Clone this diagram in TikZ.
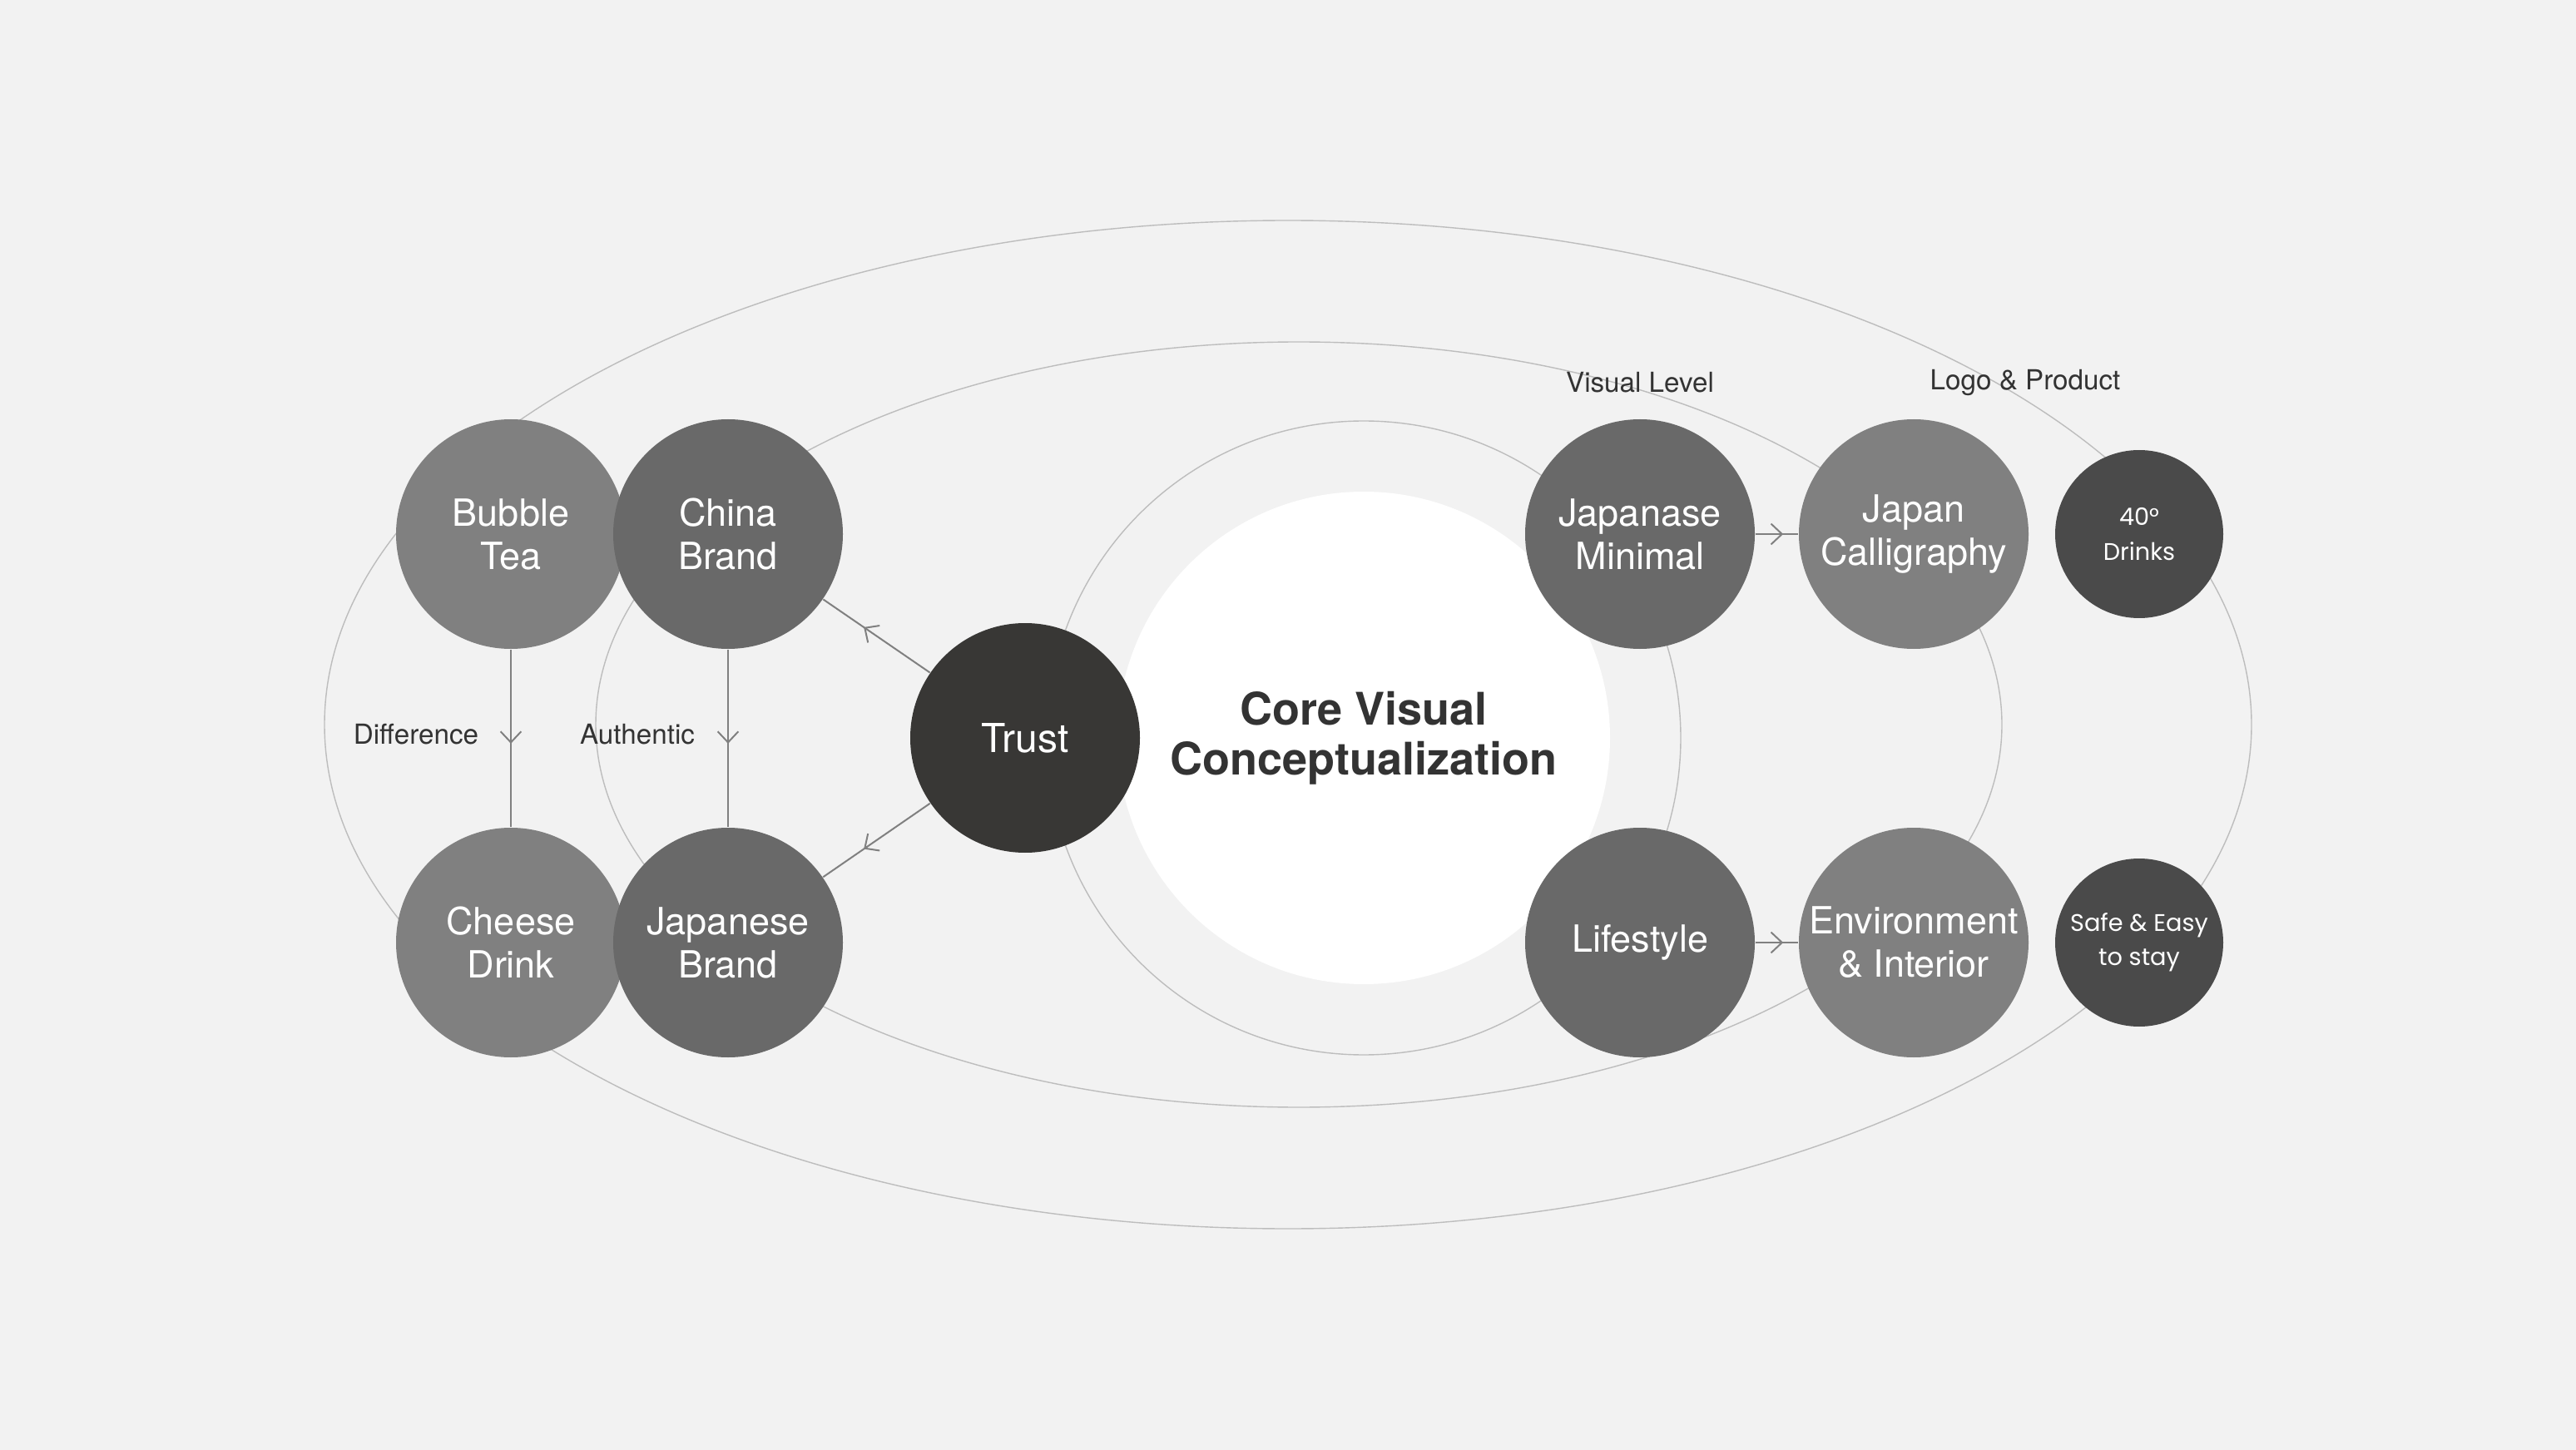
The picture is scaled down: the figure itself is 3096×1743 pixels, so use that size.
\documentclass[tikz,border=0pt]{standalone}
\usepackage{fontspec}
\setmainfont{TeX Gyre Heros}
\newfontfamily\roundfont{Poppins}
\usetikzlibrary{arrows.meta,decorations.markings}
\definecolor{bg}{HTML}{F2F2F2}
\definecolor{gLight}{HTML}{808080}
\definecolor{gMid}{HTML}{696969}
\definecolor{gDark}{HTML}{4A4A4A}
\definecolor{gTrust}{HTML}{383735}
\definecolor{orbitc}{HTML}{BDBDBD}
\definecolor{connc}{HTML}{808080}
\definecolor{txt}{HTML}{333333}
\tikzset{
  bubble/.style={circle, inner sep=0pt, minimum size=69pt, text=white, align=center,
    font=\fontsize{11.25}{13}\selectfont},
  lightb/.style={bubble, fill=gLight},
  midb/.style={bubble, fill=gMid},
  smallb/.style={circle, inner sep=0pt, minimum size=50.5pt, fill=gDark, text=white, align=center,
    font=\roundfont\fontsize{7.2}{10.3}\selectfont},
  trustb/.style={bubble, fill=gTrust, font=\fontsize{12}{13}\selectfont},
  lbl/.style={text=txt, font=\fontsize{8.3}{10}\selectfont, inner sep=0pt},
  orbit/.style={draw=orbitc, line width=0.35pt},
  conn/.style={draw=connc, line width=0.5pt},
  midarrow/.style={decoration={markings, mark=at position #1 with {\arrow{Straight Barb[length=3.3pt,width=6.2pt]}}}, postaction={decorate}},
  midarrow/.default=0.5
}
\begin{document}
\begin{tikzpicture}[x=0.25pt,y=-0.25pt]
\useasboundingbox (0,0) rectangle (3096,1743);
\fill[bg] (0,0) rectangle (3096,1743);
% orbits
\draw[orbit] (1548,871) ellipse [x radius=289.5pt, y radius=151.5pt];
\draw[orbit] (1561,871) ellipse [x radius=211.25pt, y radius=115pt];
\draw[orbit] (1639,887) circle [radius=95.25pt];
% core
\node[circle, fill=white, inner sep=0pt, minimum size=148pt, text=txt, align=center,
  font=\bfseries\fontsize{13.5}{15}\selectfont] (core) at (1639,887) {Core Visual\\Conceptualization};
% left nodes
\node[lightb] (bt) at (614,642) {Bubble\\Tea};
\node[midb] (cb) at (875,642) {China\\Brand};
\node[lightb] (cd) at (614,1133) {Cheese\\Drink};
\node[midb] (jb) at (875,1133) {Japanese\\Brand};
\node[trustb] (trust) at (1232,887) {Trust};
% right nodes
\node[midb] (jm) at (1971,642) {Japanase\\Minimal};
\node[lightb] (jc) at (2300,642) {Japan\\Calligraphy};
\node[smallb] (dr) at (2571,642) {40°\\Drinks};
\node[midb] (ls) at (1971,1133) {Lifestyle};
\node[lightb] (ei) at (2300,1133) {Environment\\\& Interior};
\node[smallb] (se) at (2571,1133) {Safe \& Easy\\to stay};
% labels
\node[lbl] (ldiff) at (500,883) {Difference};
\node[lbl] (lauth) at (766,883) {Authentic};
\node[lbl] (lvis) at (1971,460) {Visual Level};
\node[lbl] (llogo) at (2434,460) {Logo \& Product};
% connectors
\draw[conn, midarrow=0.53] (bt) -- (cd);
\draw[conn, midarrow=0.53] (cb) -- (jb);
\draw[conn, midarrow=0.62] (trust) -- (cb);
\draw[conn, midarrow=0.62] (trust) -- (jb);
\draw[conn, midarrow=0.65] (jm) -- (jc);
\draw[conn, midarrow=0.65] (ls) -- (ei);
\end{tikzpicture}
\end{document}
